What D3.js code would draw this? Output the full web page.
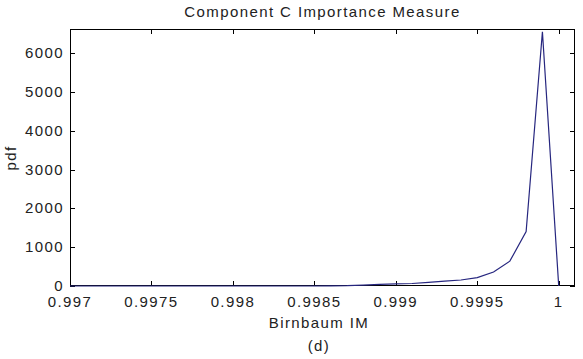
<!DOCTYPE html>
<html><head><meta charset="utf-8">
<script src="https://cdn.jsdelivr.net/npm/d3@7"></script>
<style>
body{margin:0;background:#fff;}
text{font-family:"Liberation Sans",Arial,sans-serif;font-size:15px;letter-spacing:1.4px;fill:#222;}
</style></head><body>
<svg id="c" width="583" height="359"></svg>
<script>
const xValues = [0.9970,0.9971,0.9972,0.9973,0.9974,0.9975,0.9976,0.9977,0.9978,0.9979,
  0.9980,0.9981,0.9982,0.9983,0.9984,0.9985,0.9986,0.9987,0.9988,0.9989,
  0.9990,0.9991,0.9992,0.9993,0.9994,0.9995,0.9996,0.9997,0.9998,0.9999,1.0000];
const pdfValues = [0,0,0,0,0,0,0,0,0,0,
  0,0,0,0,0,0,2,8,25,40,
  55,65,95,125,155,215,360,640,1400,6550,0];
const xTicks = [0.997,0.9975,0.998,0.9985,0.999,0.9995,1];
const xTickLabels = ["0.997","0.9975","0.998","0.9985","0.999","0.9995","1"];
const yTicks = [0,1000,2000,3000,4000,5000,6000];

const svg = d3.select("#c");
const L=70,R=575,T=29,B=286;
const x = d3.scaleLinear().domain([0.997,1.0001]).range([L,R]);
const y = d3.scaleLinear().domain([0,6620]).range([B,T]);

const tl=5;
// box
svg.append("rect").attr("x",L+0.5).attr("y",T+0.5).attr("width",R-L-1).attr("height",B-T-1)
  .attr("fill","#fff").attr("stroke","#000").attr("stroke-width",1);

// ticks
const g = svg.append("g").attr("stroke","#000").attr("stroke-width",1);
xTicks.forEach(v=>{
  const px=Math.round(x(v))+0.5;
  g.append("line").attr("x1",px).attr("x2",px).attr("y1",B).attr("y2",B-tl);
  g.append("line").attr("x1",px).attr("x2",px).attr("y1",T).attr("y2",T+tl);
});
yTicks.forEach(v=>{
  const py=Math.round(y(v))+0.5;
  g.append("line").attr("x1",L).attr("x2",L+tl).attr("y1",py).attr("y2",py);
  g.append("line").attr("x1",R).attr("x2",R-tl).attr("y1",py).attr("y2",py);
});

// data line
const line = d3.line().x((d,i)=>x(xValues[i])).y(d=>y(d));
svg.append("path").datum(pdfValues).attr("d",line)
  .attr("fill","none").attr("stroke","#26267f").attr("stroke-width",1.2);

// tick labels
xTicks.forEach((v,i)=>{
  svg.append("text").attr("x",x(v)).attr("y",307).attr("text-anchor","middle").text(xTickLabels[i]);
});
yTicks.forEach(v=>{
  svg.append("text").attr("x",64).attr("y",y(v)+5).attr("text-anchor","end").text(String(v));
});

// titles
svg.append("text").attr("x",(L+R)/2).attr("y",17).attr("text-anchor","middle").text("Component C Importance Measure");
svg.append("text").attr("x",319).attr("y",328).attr("text-anchor","middle").text("Birnbaum IM");
svg.append("text").attr("x",319).attr("y",351).attr("text-anchor","middle").text("(d)");
svg.append("text").attr("transform","translate(16,158) rotate(-90)").attr("text-anchor","middle").text("pdf");
</script>
</body></html>
